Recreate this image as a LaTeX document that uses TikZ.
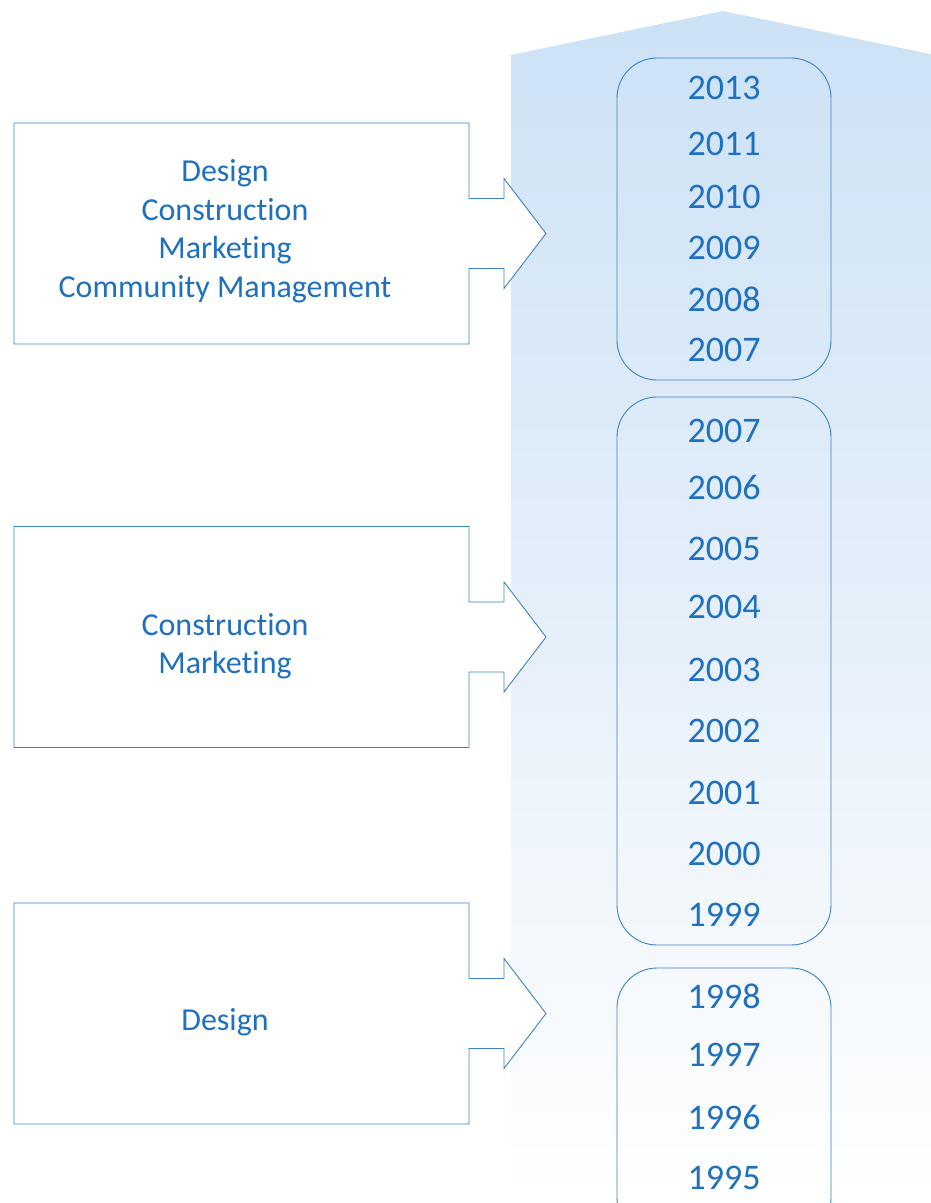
\documentclass[tikz,border=0pt]{standalone}
\usepackage{fontspec}
\setmainfont[RawFeature={-liga;-clig;-dlig;-calt}]{Carlito}
\newcommand{\nolig}{\kern0pt }
\definecolor{tblue}{RGB}{31,112,190}
\definecolor{lblue}{RGB}{60,130,196}
\definecolor{shtop}{RGB}{204,226,245}
\tikzset{
  yearbox/.style={draw=lblue, line width=0.9pt, rounded corners=40pt, minimum width=214pt, inner sep=0pt},
  yeartext/.style={text=tblue, font=\fontsize{36}{43}\selectfont, inner sep=0pt},
  callout/.style={draw=lblue, line width=0.9pt, fill=white},
  calltext/.style={text=tblue, font=\fontsize{32}{38.5}\selectfont, align=center, inner sep=0pt}
}
\begin{document}
\begin{tikzpicture}[x=1pt,y=-1pt]
\useasboundingbox (0,0) rectangle (931,1203);
\clip (0,0) rectangle (931,1203);
\fill[white] (0,0) rectangle (931,1203);
% big timeline arrow
\shade[top color=shtop, bottom color=white, middle color={rgb,255:red,229;green,239;blue,250}]
  (511,1203) -- (511,55) -- (723,11) -- (935,55) -- (935,1203) -- cycle;
% year boxes
\node[yearbox, minimum height=322pt] (r1) at (724,219) {};
\node[yearbox, minimum height=548pt] (r2) at (724,671) {};
\node[yearbox, minimum height=270pt] (r3) at (724,1103) {};
% years
\foreach \y/\t in {88/2013,144/2011,197/2010,248/2009,299/2008,350/2007,
  431/2007,487/2006,549/2005,607/2004,670/2003,731/2002,793/2001,854/2000,915/1999,
  996/1998,1055/1997,1117/1996,1178/1995}
  \node[yeartext] (y\y) at (724,\y) {\t};
% callouts
\foreach \c/\n in {233.5/a,637/b,1013.5/c}{
  \draw[callout] (14,\c-110.5) -- (469,\c-110.5) -- (469,\c-35) -- (504,\c-35) -- (504,\c-55)
    -- (546,\c) -- (504,\c+55) -- (504,\c+35) -- (469,\c+35) -- (469,\c+110.5)
    -- (14,\c+110.5) -- cycle;
}
\node[calltext] (ta) at (225,231) {Design\\Construction\\Marke\nolig ting\\Community Management};
\node[calltext] (tb) at (225,646) {Construction\\Marke\nolig ting};
\node[calltext] (tc) at (225,1022) {Design};
\end{tikzpicture}
\end{document}
